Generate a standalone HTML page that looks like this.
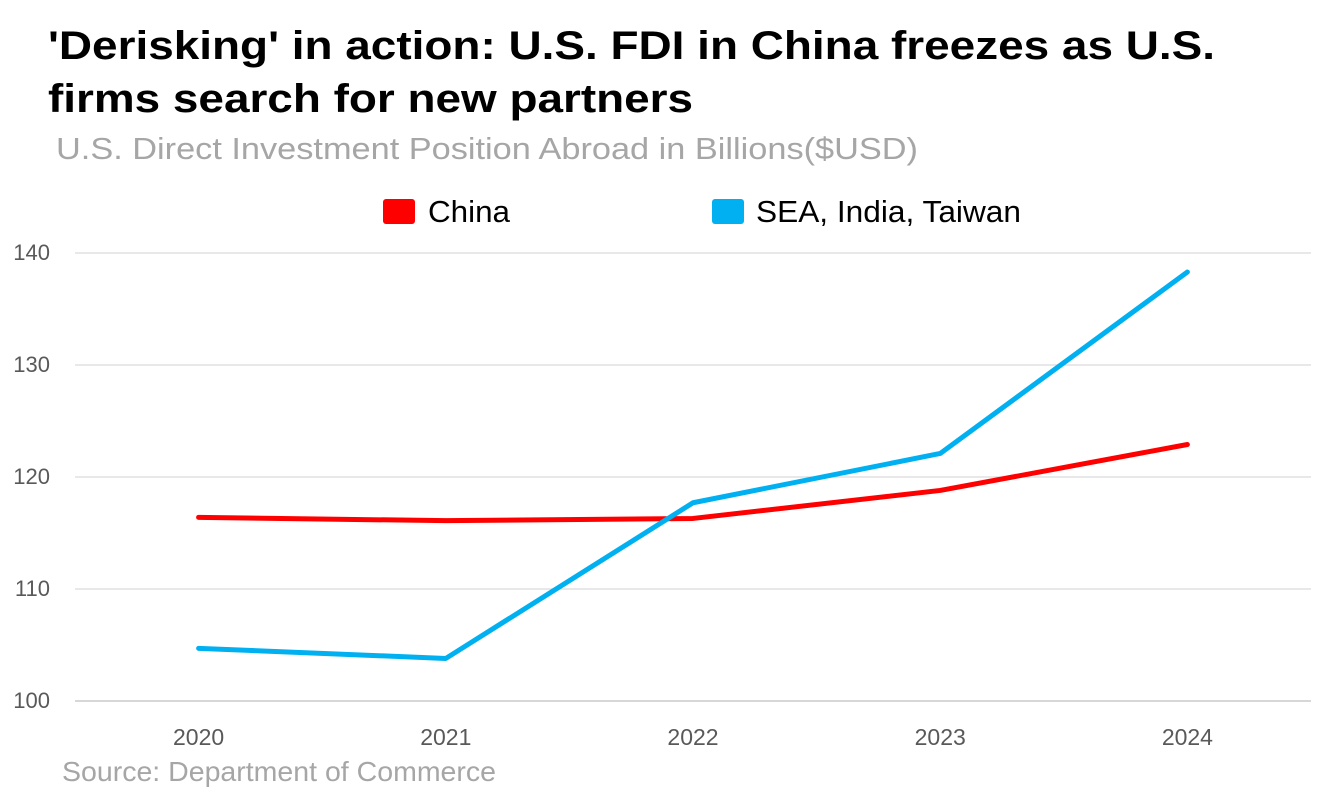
<!DOCTYPE html>
<html><head><meta charset="utf-8"><style>
body{margin:0;width:1326px;height:812px;background:#fff;overflow:hidden;font-family:"Liberation Sans",sans-serif;position:relative}
svg{position:absolute;left:0;top:0;font-family:"Liberation Sans",sans-serif}
</style></head><body>
<svg id="c" width="1326" height="812">
<text x="48" y="59" font-size="40" font-weight="bold" fill="#000" textLength="1167" lengthAdjust="spacingAndGlyphs">'Derisking' in action: U.S. FDI in China freezes as U.S.</text>
<text x="48" y="112" font-size="40" font-weight="bold" fill="#000" textLength="645" lengthAdjust="spacingAndGlyphs">firms search for new partners</text>
<text x="56" y="159" font-size="31" fill="#a6a6a6" textLength="862" lengthAdjust="spacingAndGlyphs">U.S. Direct Investment Position Abroad in Billions($USD)</text>
<text x="62" y="781" font-size="28" fill="#a6a6a6" textLength="434" lengthAdjust="spacingAndGlyphs">Source: Department of Commerce</text>
<g>
<rect x="383" y="199" width="32" height="25" rx="3" fill="#ff0000"/>
<text x="428" y="222" font-size="31" fill="#000" textLength="82" lengthAdjust="spacingAndGlyphs">China</text>
<rect x="712" y="199" width="32" height="25" rx="3" fill="#00b0f0"/>
<text x="756" y="222" font-size="31" fill="#000" textLength="265" lengthAdjust="spacingAndGlyphs">SEA, India, Taiwan</text>
</g>
</svg>
<script>
const categories=["2020","2021","2022","2023","2024"];
const chinaValues=[116.4,116.1,116.3,118.8,122.9];
const seaValues=[104.7,103.8,117.7,122.1,138.3];
const yTicks=[100,110,120,130,140];
const NS="http://www.w3.org/2000/svg";
const svg=document.getElementById('c');
const L=75,R=1311,yMin=100,yMax=140,pxTop=253,pxBot=701;
const band=(R-L)/categories.length;
const x=i=>L+band*(i+0.5);
const y=v=>pxBot-(v-yMin)/(yMax-yMin)*(pxBot-pxTop);
function mk(t,a){const e=document.createElementNS(NS,t);for(const k in a)e.setAttribute(k,a[k]);svg.appendChild(e);return e;}
yTicks.forEach(v=>{
 const g=mk('line',{x1:L,x2:R,y1:y(v),y2:y(v),stroke:v===yMin?'#bfbfbf':'#d9d9d9','stroke-width':1.3});
 
 
 const t=mk('text',{x:50,y:y(v)+7,'font-size':22,fill:'#595959','text-anchor':'end'});
 t.textContent=v;
 
 
});
categories.forEach((c,i)=>{
 const t=mk('text',{x:x(i),y:745,'font-size':23,fill:'#595959','text-anchor':'middle'});
 t.textContent=c;
 
 
});
function line(vals,color,name){
 const p=mk('polyline',{points:vals.map((v,i)=>x(i)+','+y(v)).join(' '),fill:'none',stroke:color,'stroke-width':5,'stroke-linejoin':'round','stroke-linecap':'round'});
 
 
}
line(chinaValues,'#ff0000','series-china-line');
line(seaValues,'#00b0f0','series-sea-line');
</script>
</body></html>
